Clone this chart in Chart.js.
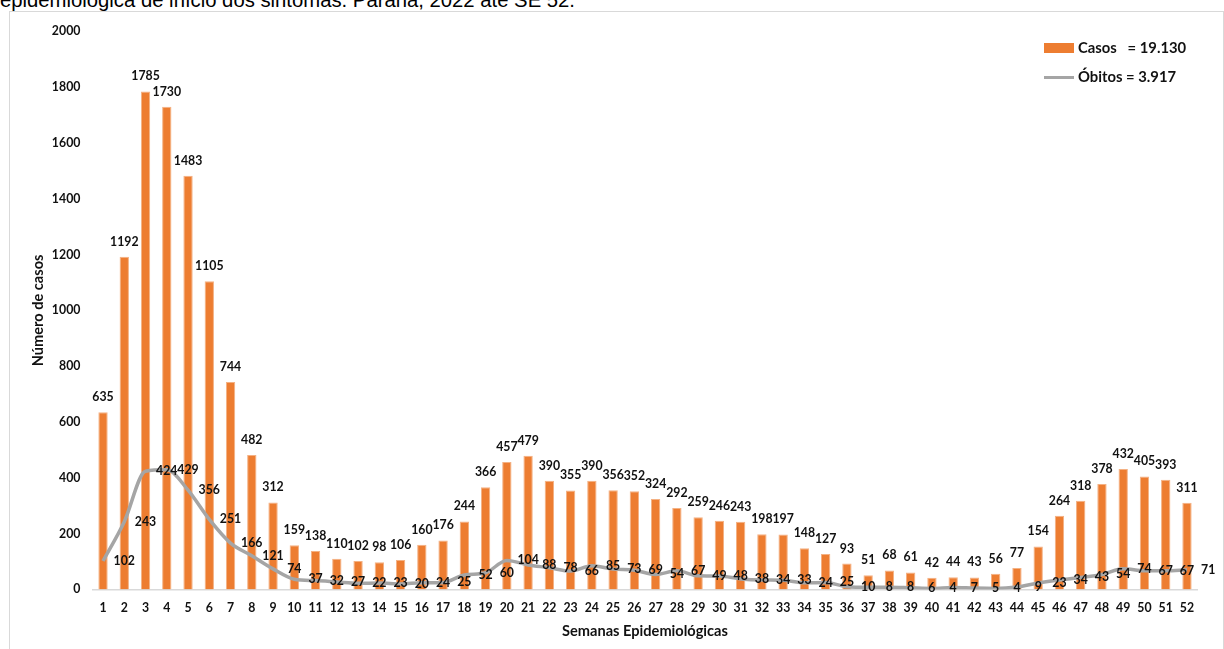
<!DOCTYPE html>
<html>
<head>
<meta charset="utf-8">
<script src="https://cdn.jsdelivr.net/npm/chart.js@4"></script>
<style>
  html, body { margin: 0; padding: 0; background: #fff; overflow: hidden; }
  #caption {
    position: absolute; left: 0; top: -10px; white-space: nowrap;
    font: 20.3px/20px "Liberation Sans", Arial, sans-serif; color: #000;
  }
  #frame {
    position: absolute; left: 9px; top: 11px; width: 1213px; height: 640px;
    border: 1px solid #d9d9d9; background: #fff;
  }
</style>
</head>
<body>
<div id="caption">epidemiológica de início dos sintomas. Paraná, 2022 até SE 52.</div>
<div id="frame"><canvas id="chart" width="1213" height="640"></canvas></div>
<script>
const weeks = [];
for (let w = 1; w <= 52; w++) weeks.push(String(w));

const casos = [635, 1192, 1785, 1730, 1483, 1105, 744, 482, 312, 159,
    138, 110, 102, 98, 106, 160, 176, 244, 366, 457,
    479, 390, 355, 390, 356, 352, 324, 292, 259, 246,
    243, 198, 197, 148, 127, 93, 51, 68, 61, 42,
    44, 43, 56, 77, 154, 264, 318, 378, 432, 405,
    393, 311];

const obitos = [102, 243, 424, 429, 356, 251, 166, 121, 74, 37,
    32, 27, 22, 23, 20, 24, 25, 52, 60, 104,
    88, 78, 66, 85, 73, 69, 54, 67, 49, 48,
    38, 34, 33, 24, 25, 10, 8, 8, 6, 4,
    7, 5, 4, 9, 23, 34, 43, 54, 74, 67,
    67, 71];

const legendTexts = ['Casos   = 19.130', 'Óbitos = 3.917'];

const FONT = 'Lato, "Open Sans", sans-serif';
const ORANGE = '#ed7d31';
const GREY = '#a5a5a5';
const INK = '#111';

// value labels + legend drawn on the canvas
const labelsPlugin = {
    id: 'labels',
    afterDatasetsDraw(chart) {
        const ctx = chart.ctx;
        const xs = chart.scales.x;
        const step = xs.getPixelForValue(1) - xs.getPixelForValue(0);
        ctx.save();
        ctx.font = 'bold 12.3px ' + FONT;
        ctx.fillStyle = INK;
        ctx.textAlign = 'center';
        ctx.textBaseline = 'middle';
        chart.getDatasetMeta(1).data.forEach((bar, i) => {
            ctx.fillText(casos[i], bar.x, bar.y - 15);
        });
        // excel put the death labels one week to the right
        chart.getDatasetMeta(0).data.forEach((pt, i) => {
            ctx.fillText(obitos[i], pt.x + step, pt.y);
        });

        // legend
        ctx.textAlign = 'left';
        ctx.fillStyle = ORANGE;
        ctx.fillRect(1034, 31, 30, 10);
        ctx.strokeStyle = GREY;
        ctx.lineWidth = 3;
        ctx.beginPath();
        ctx.moveTo(1034, 65.5);
        ctx.lineTo(1064, 65.5);
        ctx.stroke();
        ctx.fillStyle = INK;
        ctx.font = 'bold 14.8px ' + FONT;
        ctx.fillText(legendTexts[0], 1068, 36);
        ctx.fillText(legendTexts[1], 1068, 65);
        ctx.restore();
    }
};

new Chart(document.getElementById('chart'), {
    type: 'bar',
    data: {
        labels: weeks,
        datasets: [
            {
                type: 'line',
                label: 'Óbitos',
                data: obitos,
                borderColor: GREY,
                borderWidth: 3.5,
                pointRadius: 0,
                cubicInterpolationMode: 'monotone',
                fill: false,
                order: 0
            },
            {
                type: 'bar',
                label: 'Casos',
                data: casos,
                backgroundColor: ORANGE,
                borderColor: '#f4b183',
                borderWidth: { top: 1, left: 1, right: 1, bottom: 0 },
                barPercentage: 0.44,
                categoryPercentage: 1.0,
                order: 1
            }
        ]
    },
    options: {
        responsive: false,
        animation: false,
        layout: { padding: { top: 15.5, right: 25.4, left: 0, bottom: 0 } },
        plugins: {
            legend: { display: false },
            tooltip: { enabled: false }
        },
        scales: {
            x: {
                offset: true,
                grid: { display: false, drawTicks: false },
                border: { display: true, color: '#d9d9d9', width: 1.5 },
                ticks: {
                    color: INK,
                    font: { family: FONT, size: 12.3, weight: 'bold' },
                    padding: 11,
                    maxRotation: 0,
                    autoSkip: false
                },
                title: {
                    display: true,
                    text: 'Semanas Epidemiológicas',
                    color: INK,
                    font: { family: FONT, size: 14.6, weight: 'bold' },
                    padding: { top: 0, bottom: 12 }
                },
                afterFit(s) { s.height = 62.5; }
            },
            y: {
                min: 0,
                max: 2000,
                grid: { display: false, drawTicks: false },
                border: { display: false },
                ticks: {
                    stepSize: 200,
                    color: INK,
                    font: { family: FONT, size: 12.3, weight: 'bold' },
                    padding: 12,
                    callback: v => String(v)
                },
                title: {
                    display: true,
                    text: 'Número de casos',
                    color: INK,
                    font: { family: FONT, size: 14.6, weight: 'bold' },
                    padding: { top: 20, bottom: 0 }
                },
                afterFit(s) { s.width = 82.4; }
            }
        }
    },
    plugins: [labelsPlugin]
});
</script>
</body>
</html>
